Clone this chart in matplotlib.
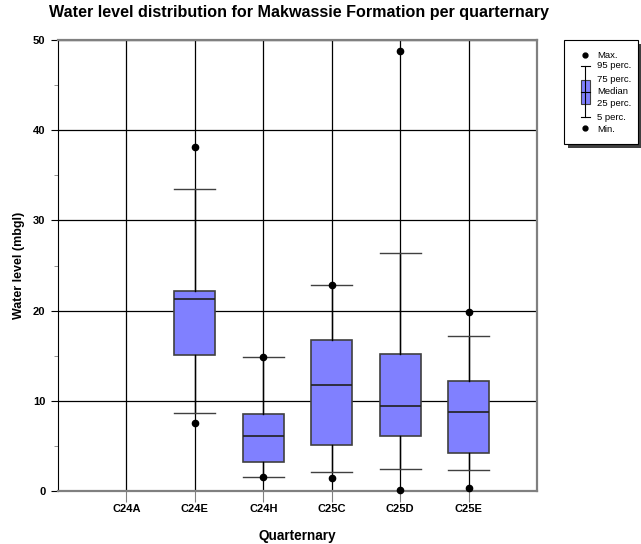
import numpy as np
import matplotlib.pyplot as plt
from matplotlib.patches import Rectangle

plt.rcParams["font.family"] = ["Liberation Sans", "DejaVu Sans"]

categories = ["C24A", "C24E", "C24H", "C25C", "C25D", "C25E"]
# per-quarternary statistics (None = no data)
p_max = [None, 38.1, 14.9, 22.8, 48.8, 19.8]
p95 = [None, 33.5, 14.9, 22.8, 26.4, 17.2]
p75 = [None, 22.2, 8.5, 16.7, 15.2, 12.2]
p50 = [None, 21.3, 6.1, 11.8, 9.4, 8.8]
p25 = [None, 15.1, 3.2, 5.1, 6.1, 4.2]
p05 = [None, 8.7, 1.5, 2.1, 2.4, 2.3]
p_min = [None, 7.5, 1.5, 1.4, 0.1, 0.3]

box_color = "#8080ff"
box_edge = "#404040"

fig = plt.figure(figsize=(6.41, 5.44), dpi=100)
ax = fig.add_axes([58 / 641, 53 / 544, 479 / 641, 451 / 544])

positions = np.arange(1, len(categories) + 1)
stats = []
pos_used = []
for i, cat in enumerate(categories):
    if p50[i] is None:
        continue
    stats.append(dict(med=p50[i], q1=p25[i], q3=p75[i],
                      whislo=p05[i], whishi=p95[i], fliers=[], label=cat))
    pos_used.append(positions[i])

ax.bxp(stats, positions=pos_used, widths=0.6, patch_artist=True,
       showfliers=False, capwidths=0.6,
       boxprops=dict(facecolor=box_color, edgecolor=box_edge, linewidth=1.2),
       medianprops=dict(color="#202020", linewidth=1.2),
       whiskerprops=dict(color="black", linewidth=1),
       capprops=dict(color="#404040", linewidth=1), zorder=3)

for i in range(len(categories)):
    if p_max[i] is None:
        continue
    ax.plot([positions[i]] * 2, [p_max[i], p_min[i]], "o", color="black",
            markersize=4.5, zorder=4, clip_on=False)

ax.set_xlim(0, 7)
ax.set_ylim(0, 50)
ax.set_xticks(positions)
ax.set_xticklabels(categories, fontsize=8, fontweight="bold")
ax.set_yticks([0, 10, 20, 30, 40, 50])
ax.set_yticks([5, 15, 25, 35, 45], minor=True)
ax.tick_params(axis="y", which="major", labelsize=8, length=5, direction="out", pad=4)
ax.tick_params(axis="y", which="minor", length=3, color="#808080")
ax.tick_params(axis="x", length=8, direction="out", color="#808080", pad=1)
for lab in ax.get_yticklabels():
    lab.set_fontweight("bold")
ax.grid(True, which="major", color="black", linewidth=0.9, zorder=1)
ax.set_axisbelow(True)
for side in ["top", "right", "bottom"]:
    ax.spines[side].set_color("#808080")
    ax.spines[side].set_linewidth(1.6)
ax.spines["left"].set_color("black")

ax.set_xlabel("Quarternary", fontsize=9.8, fontweight="bold", labelpad=11)
ax.set_ylabel("Water level (mbgl)", fontsize=9, fontweight="bold", labelpad=6)
fig.text(49 / 641, 1 - 13 / 544, "Water level distribution for Makwassie Formation per quarternary",
         fontsize=11.6, fontweight="bold", va="center", ha="left")

# legend panel drawn in pixel coordinates
lg = fig.add_axes([0, 0, 1, 1], facecolor="none")
lg.set_xlim(0, 641)
lg.set_ylim(544, 0)
lg.axis("off")
lg.add_patch(Rectangle((568, 44), 73, 104, facecolor="#404040", edgecolor="none"))
lg.add_patch(Rectangle((564, 40), 74, 104, facecolor="white", edgecolor="black", linewidth=0.8))
cx = 585
lg.plot([cx, cx], [66, 117], color="black", linewidth=0.8)
lg.plot([cx - 4.5, cx + 4.5], [66, 66], color="black", linewidth=0.8)
lg.plot([cx - 4.5, cx + 4.5], [117, 117], color="black", linewidth=0.8)
lg.add_patch(Rectangle((cx - 4.5, 80), 9, 24, facecolor=box_color, edgecolor=box_edge, linewidth=0.8))
lg.plot([cx - 4.5, cx + 4.5], [92, 92], color="black", linewidth=0.8)
lg.plot([cx, cx], [55, 128], "o", color="black", markersize=3.5)
legend_labels = ["Max.", "95 perc.", "75 perc.", "Median", "25 perc.", "5 perc.", "Min."]
legend_y = [55, 66, 80, 92, 104, 117, 129]
for t, y in zip(legend_labels, legend_y):
    lg.text(597, y, t, fontsize=6.8, va="center", ha="left")

fig.savefig("out.png", dpi=100)
